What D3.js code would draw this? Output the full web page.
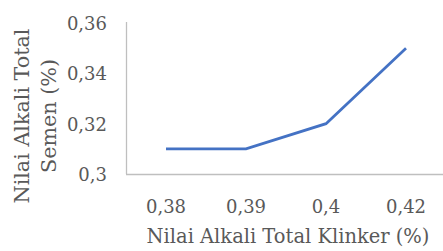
<!DOCTYPE html>
<html>
<head>
<meta charset="utf-8">
<script src="https://cdnjs.cloudflare.com/ajax/libs/d3/7.8.5/d3.min.js"></script>
<style>
  body { margin: 0; background: #fff; }
</style>
</head>
<body>
<script>
// data
var categories = ["0,38", "0,39", "0,4", "0,42"];
var values = [0.31, 0.31, 0.32, 0.35];
var yTicks = [0.30, 0.32, 0.34, 0.36];
var yTickLabels = ["0,3", "0,32", "0,34", "0,36"];
var xTitle = "Nilai Alkali Total Klinker (%)";
var yTitle = ["Nilai Alkali Total", "Semen (%)"];

//no Times here, DejaVu Serif is the closest serif we have
var serif = "'DejaVu Serif', serif";

window.onload = drawChart();
function drawChart(){

	var width = 443,
		height = 251;

	//plot area
	var left = 126, right = 446, top = 23, bottom = 174;

	var svg = d3.select("body")
		.append("svg")
		.attr("width", width)
		.attr("height", height)
		.attr("font-family", serif);

	//shrink a text so its width matches what the reference shows
	function fitSize(str, target){
		var t = svg.append("text").attr("font-size", 20).text(str);
		var w = t.node().getComputedTextLength();
		t.remove();
		return 20 * target / w;
	}
	var tickSize = 18,
		xTitleSize = fitSize(xTitle, 283),
		yTitleSize = fitSize(yTitle[0], 175);

	var x = d3.scaleBand()
		.domain(categories)
		.range([left, right]);

	var y = d3.scaleLinear()
		.domain([0.30, 0.36])
		.range([bottom, top]);

	//axis lines
	svg.append("line")
		.attr("x1", left + 0.5).attr("x2", left + 0.5)
		.attr("y1", top - 1).attr("y2", bottom)
		.attr("stroke", "#bfbfbf").attr("stroke-width", 1.3);

	svg.append("line")
		.attr("x1", left).attr("x2", width)
		.attr("y1", bottom + 0.5).attr("y2", bottom + 0.5)
		.attr("stroke", "#bfbfbf").attr("stroke-width", 1.3);

	//y tick labels
	svg.selectAll(".ylab")
		.data(yTicks)
		.enter()
		.append("text")
		.attr("class", "ylab")
		.attr("x", 107)
		.attr("y", function(d){ return y(d) + 7; })
		.attr("text-anchor", "end")
		.attr("font-size", tickSize)
		.attr("fill", "#595959")
		.text(function(d, i){ return yTickLabels[i]; });

	//x tick labels
	svg.selectAll(".xlab")
		.data(categories)
		.enter()
		.append("text")
		.attr("class", "xlab")
		.attr("x", function(d){ return x(d) + x.bandwidth() / 2; })
		.attr("y", 213)
		.attr("text-anchor", "middle")
		.attr("font-size", tickSize)
		.attr("fill", "#595959")
		.text(function(d){ return d; });

	//the line
	var line = d3.line()
		.x(function(d, i){ return x(categories[i]) + x.bandwidth() / 2; })
		.y(function(d){ return y(d); });

	svg.append("path")
		.datum(values)
		.attr("d", line)
		.attr("fill", "none")
		.attr("stroke", "#4472c4")
		.attr("stroke-width", 2.75);

	//axis titles
	svg.append("text")
		.attr("x", 288)
		.attr("y", 243)
		.attr("text-anchor", "middle")
		.attr("font-size", xTitleSize)
		.attr("fill", "#595959")
		.text(xTitle);

	var yt = svg.append("text")
		.attr("transform", "translate(29,116) rotate(-90)")
		.attr("text-anchor", "middle")
		.attr("font-size", yTitleSize)
		.attr("fill", "#595959");
	yt.selectAll("tspan")
		.data(yTitle)
		.enter()
		.append("tspan")
		.attr("x", 0)
		.attr("dy", function(d, i){ return i ? 27 : 0; })
		.text(function(d){ return d; });
};
</script>
</body>
</html>
